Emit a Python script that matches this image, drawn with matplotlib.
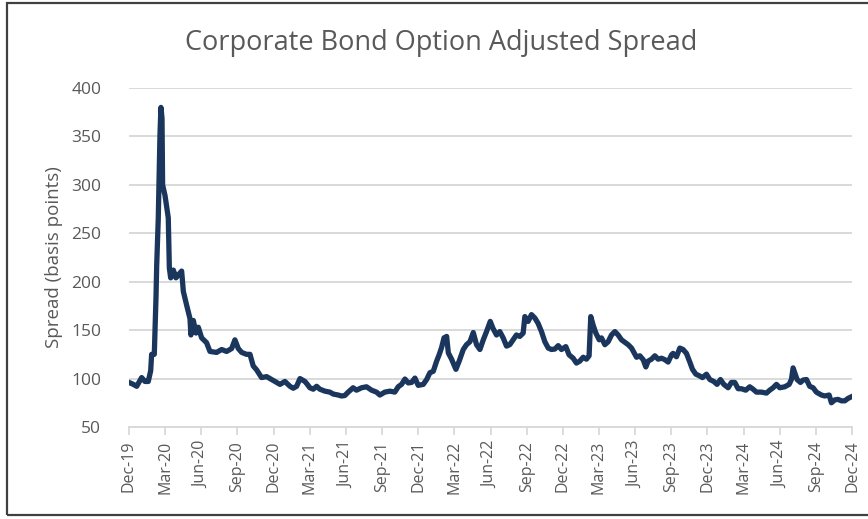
import matplotlib
matplotlib.use("Agg")
import matplotlib.pyplot as plt
from matplotlib.patches import Rectangle

# months since Dec-19 (end of month) and spread in basis points
months = [0, 0.36, 0.64, 1.05, 1.33, 1.6, 1.8, 1.88, 2.1, 2.24, 2.3, 2.43, 2.57, 2.65,
          2.74, 2.79, 2.99, 3.26, 3.35, 3.46, 3.68, 3.9, 4.09, 4.37, 4.51, 4.78, 5.06,
          5.14, 5.34, 5.56, 5.75, 6.03, 6.44, 6.72, 7.27, 7.69, 8.1, 8.52, 8.79, 9.07,
          9.35, 9.76, 10.04, 10.31, 10.59, 11.0, 11.42, 11.83, 12.25, 12.53, 12.94,
          13.36, 13.63, 13.91,
          14.19, 14.6, 14.8, 15.01, 15.29, 15.57, 15.84, 16.26, 16.67, 16.95, 17.36,
          17.64, 17.91, 18.19, 18.6, 18.88, 19.3, 19.71, 20.13, 20.54, 20.82, 21.23,
          21.65, 22.06, 22.34, 22.62, 22.9, 23.17, 23.45, 23.73, 24.0, 24.42, 24.7,
          24.97, 25.25, 25.53, 25.75, 25.94, 26.14, 26.36, 26.5, 26.77, 27.13, 27.4,
          27.74, 28.01, 28.29, 28.57, 28.84, 29.12,
          29.4, 29.67, 29.98, 30.2, 30.5, 30.77, 31.05, 31.33, 31.6, 31.88, 32.15,
          32.43, 32.71, 32.85, 33.12, 33.4, 33.68, 33.95, 34.23, 34.51, 34.79, 35.06,
          35.34, 35.62, 35.89, 36.25, 36.52, 36.86, 37.13, 37.41, 37.69, 37.96, 38.18,
          38.32, 38.52, 38.74, 39.02, 39.21, 39.49, 39.76, 40.04, 40.32, 40.59, 40.87,
          41.15, 41.42, 41.7, 41.9, 42.12, 42.39, 42.67, 42.89, 43.08, 43.36, 43.64,
          43.91, 44.19, 44.47, 44.74,
          45.02, 45.15, 45.43, 45.71, 45.98, 46.26, 46.54, 46.76, 47.04, 47.31, 47.59,
          47.92, 48.2, 48.53, 48.8, 49.08, 49.36, 49.72, 49.99, 50.27, 50.55, 50.82,
          51.18, 51.51, 51.79, 52.07, 52.48, 52.9, 53.17, 53.45, 53.73, 54.0, 54.42,
          54.78, 54.97, 55.11, 55.25, 55.44, 55.72, 55.94, 56.22, 56.49, 56.77, 57.04,
          57.46, 57.74, 58.1, 58.29, 58.57, 58.84, 59.12, 59.4, 59.67, 60.0]
spread = [96, 94, 92, 101, 97, 97, 108, 125, 125, 183, 217, 265, 351, 380,
          369, 300, 289, 266, 214, 204, 212, 204, 207, 211, 190, 176, 162,
          145, 160, 147, 153, 142, 137, 128, 127, 130, 128, 131, 140, 131,
          127, 125, 125, 113, 109, 101, 102, 99, 96, 94, 97,
          92, 90, 92,
          100, 97, 94, 90.5, 89, 92, 89, 87, 86, 84, 83,
          82, 82.5, 86, 90.5, 88, 90.5, 91.5, 88, 86, 83, 86,
          87, 86, 91.5, 94, 99.5, 95.5, 96, 100.5, 93, 94, 99,
          106, 107.5, 118, 125, 132, 142, 143.5, 126.5, 120, 109.5, 118,
          130, 135, 138, 147.5, 135, 130,
          140, 148.5, 159, 152, 145, 148.5, 142, 133.5, 135, 140, 145,
          143.5, 147, 164, 159, 166, 162.5, 157, 148.5, 138, 131.5, 130,
          130.5, 134, 130, 133, 124.5, 121, 116, 118, 122, 120, 123.5,
          164, 155, 147, 140, 142, 135, 138, 145, 148.5, 145, 140,
          137.5, 135, 131.5, 127, 122, 123.5, 119.5, 112, 118, 120, 123.5,
          120, 121, 119.5, 117,
          124.5, 126, 122.5, 131.5, 130, 126, 117, 109.5, 104.5, 103, 101,
          104.5, 99, 97, 94, 99, 94, 90.5, 96, 96, 89.5, 89.5,
          88, 91.5, 89, 86, 86, 85, 88, 90.5, 94, 90.5, 91.5,
          94, 99, 111, 106, 99, 96, 98.5, 99, 92, 90.5, 86,
          83, 82, 83, 75, 78, 78.5, 77, 77, 79.5, 81.5]

tick_months = list(range(0, 61, 3))
tick_labels = ["Dec-19", "Mar-20", "Jun-20", "Sep-20", "Dec-20", "Mar-21", "Jun-21",
               "Sep-21", "Dec-21", "Mar-22", "Jun-22", "Sep-22", "Dec-22", "Mar-23",
               "Jun-23", "Sep-23", "Dec-23", "Mar-24", "Jun-24", "Sep-24", "Dec-24"]

plt.rcParams['font.family'] = ['Open Sans', 'DejaVu Sans']
txt = '#595959'
grid = '#d9d9d9'

fig = plt.figure(figsize=(8.68, 5.19), dpi=100)
ax = fig.add_axes([0.1486, 0.1773, 0.833, 0.6531])

ax.plot(months, spread, color='#1b365d', lw=3.8, solid_joinstyle='round', zorder=3)

ax.set_xlim(0, 60)
ax.set_ylim(50, 400)
ax.set_yticks(range(50, 401, 50))
ax.set_xticks(tick_months)
ax.set_xticklabels(tick_labels, rotation=90)
ax.tick_params(axis='y', length=0, pad=20, labelsize=12.5, labelcolor=txt)
ax.tick_params(axis='x', length=6, width=1.3, color=grid, pad=4, labelsize=11.5, labelcolor=txt)
ax.yaxis.grid(True, color=grid, lw=1.4)
ax.set_axisbelow(True)
for s in ['top', 'right', 'left']:
    ax.spines[s].set_visible(False)
ax.spines['bottom'].set_color(grid)
ax.spines['bottom'].set_linewidth(1.4)

ax.set_ylabel('Spread (basis points)', fontsize=13.5, color=txt, labelpad=6)
fig.text(0.508, 0.917, 'Corporate Bond Option Adjusted Spread', ha='center', va='center',
         fontsize=19.5, color=txt)

fig.patches.append(Rectangle((7 / 868, 1 - 515 / 519), 1.1, 512 / 519, transform=fig.transFigure,
                             fill=False, edgecolor='#404040', lw=1.6))

fig.savefig('out.png', dpi=100)
